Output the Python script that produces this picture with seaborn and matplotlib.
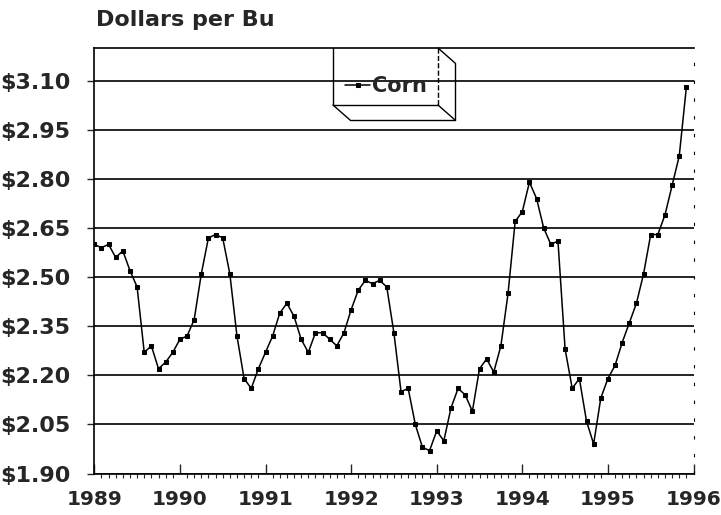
import numpy as np
import pandas as pd
import matplotlib.pyplot as plt
from matplotlib.lines import Line2D
from matplotlib.ticker import MultipleLocator
import seaborn as sns

# monthly corn price, Jan 1989 .. Dec 1995
price_1989 = [2.60, 2.59, 2.60, 2.56, 2.58, 2.52, 2.47, 2.27, 2.29, 2.22, 2.24, 2.27]
price_1990 = [2.31, 2.32, 2.37, 2.51, 2.62, 2.63, 2.62, 2.51, 2.32, 2.19, 2.16, 2.22]
price_1991 = [2.27, 2.32, 2.39, 2.42, 2.38, 2.31, 2.27, 2.33, 2.33, 2.31, 2.29, 2.33]
price_1992 = [2.40, 2.46, 2.49, 2.48, 2.49, 2.47, 2.33, 2.15, 2.16, 2.05, 1.98, 1.97]
price_1993 = [2.03, 2.00, 2.10, 2.16, 2.14, 2.09, 2.22, 2.25, 2.21, 2.29, 2.45, 2.67]
price_1994 = [2.70, 2.79, 2.74, 2.65, 2.60, 2.61, 2.28, 2.16, 2.19, 2.06, 1.99, 2.13]
price_1995 = [2.19, 2.23, 2.30, 2.36, 2.42, 2.51, 2.63, 2.63, 2.69, 2.78, 2.87, 3.08]

year_ticks = [1989, 1990, 1991, 1992, 1993, 1994, 1995, 1996]
price_ticks = [1.90, 2.05, 2.20, 2.35, 2.50, 2.65, 2.80, 2.95, 3.10]

prices = price_1989 + price_1990 + price_1991 + price_1992 + price_1993 + price_1994 + price_1995
df = pd.DataFrame({
    "year": 1989 + np.arange(len(prices)) / 12,
    "price": prices,
})

sns.set_style("white")
plt.rcParams["font.family"] = ["DejaVu Sans"]
plt.rcParams["font.weight"] = "bold"

W, H = 721, 515
fig = plt.figure(figsize=(W / 100, H / 100), dpi=100)
left, right, top, bottom = 94.3, 693.5, 48, 473.5
ax = fig.add_axes([left / W, 1 - bottom / H, (right - left) / W, (bottom - top) / H])

sns.lineplot(data=df, x="year", y="price", color="black", linewidth=1.1,
             marker="s", markersize=3.5, markeredgecolor="black",
             label="Corn", ax=ax)

ax.set_xlim(1989, 1996)
ax.set_ylim(1.90, 3.20)
ax.set_yticks(price_ticks)
ax.set_yticklabels(["\\$%.2f" % v for v in price_ticks])
ax.set_xticks(year_ticks)
ax.set_xticklabels([str(y) for y in year_ticks])
ax.xaxis.set_minor_locator(MultipleLocator(1 / 12))
ax.set_xlabel("")
ax.set_ylabel("")

ax.yaxis.grid(True, color="black", linewidth=1.2)
ax.set_axisbelow(True)

ax.tick_params(axis="y", which="major", direction="out", length=5, width=1,
               pad=12, labelsize=16, left=True)
ax.tick_params(axis="x", which="major", direction="in", length=7, width=1,
               pad=12, labelsize=14.5, bottom=True)
ax.tick_params(axis="x", which="minor", direction="out", length=3, width=0.8,
               bottom=True)
for lab in ax.get_xticklabels() + ax.get_yticklabels():
    lab.set_fontweight("bold")

for side in ["left", "bottom", "top"]:
    ax.spines[side].set_color("black")
    ax.spines[side].set_linewidth(1.2)
ax.spines["right"].set_color("black")
ax.spines["right"].set_linewidth(0.8)
ax.spines["right"].set_linestyle((0, (2, 14)))

fig.text(96 / W, 1 - 20 / H, "Dollars per Bu", fontsize=16, fontweight="bold",
         ha="left", va="center")

# 3-D looking legend box
def px(x, y):
    return (x / W, 1 - y / H)

box_lines = [
    ((333, 48), (333, 105), "-"),
    ((333, 105), (438, 105), "-"),
    ((438, 48), (438, 105), "--"),
    ((333, 105), (350, 120), "-"),
    ((438, 48), (455, 63), "-"),
    ((438, 105), (455, 120), "-"),
    ((350, 120), (455, 120), "-"),
    ((455, 63), (455, 120), "-"),
]
for p0, p1, ls in box_lines:
    a, b = px(*p0), px(*p1)
    fig.add_artist(Line2D([a[0], b[0]], [a[1], b[1]], color="black",
                          linewidth=1, linestyle=ls))

ax.legend(loc="center left", bbox_to_anchor=px(345, 86),
          bbox_transform=fig.transFigure, frameon=False, borderpad=0,
          borderaxespad=0, handlelength=1.2, handletextpad=0.1,
          prop={"size": 15, "weight": "bold"})

fig.savefig("out.png", dpi=100)
